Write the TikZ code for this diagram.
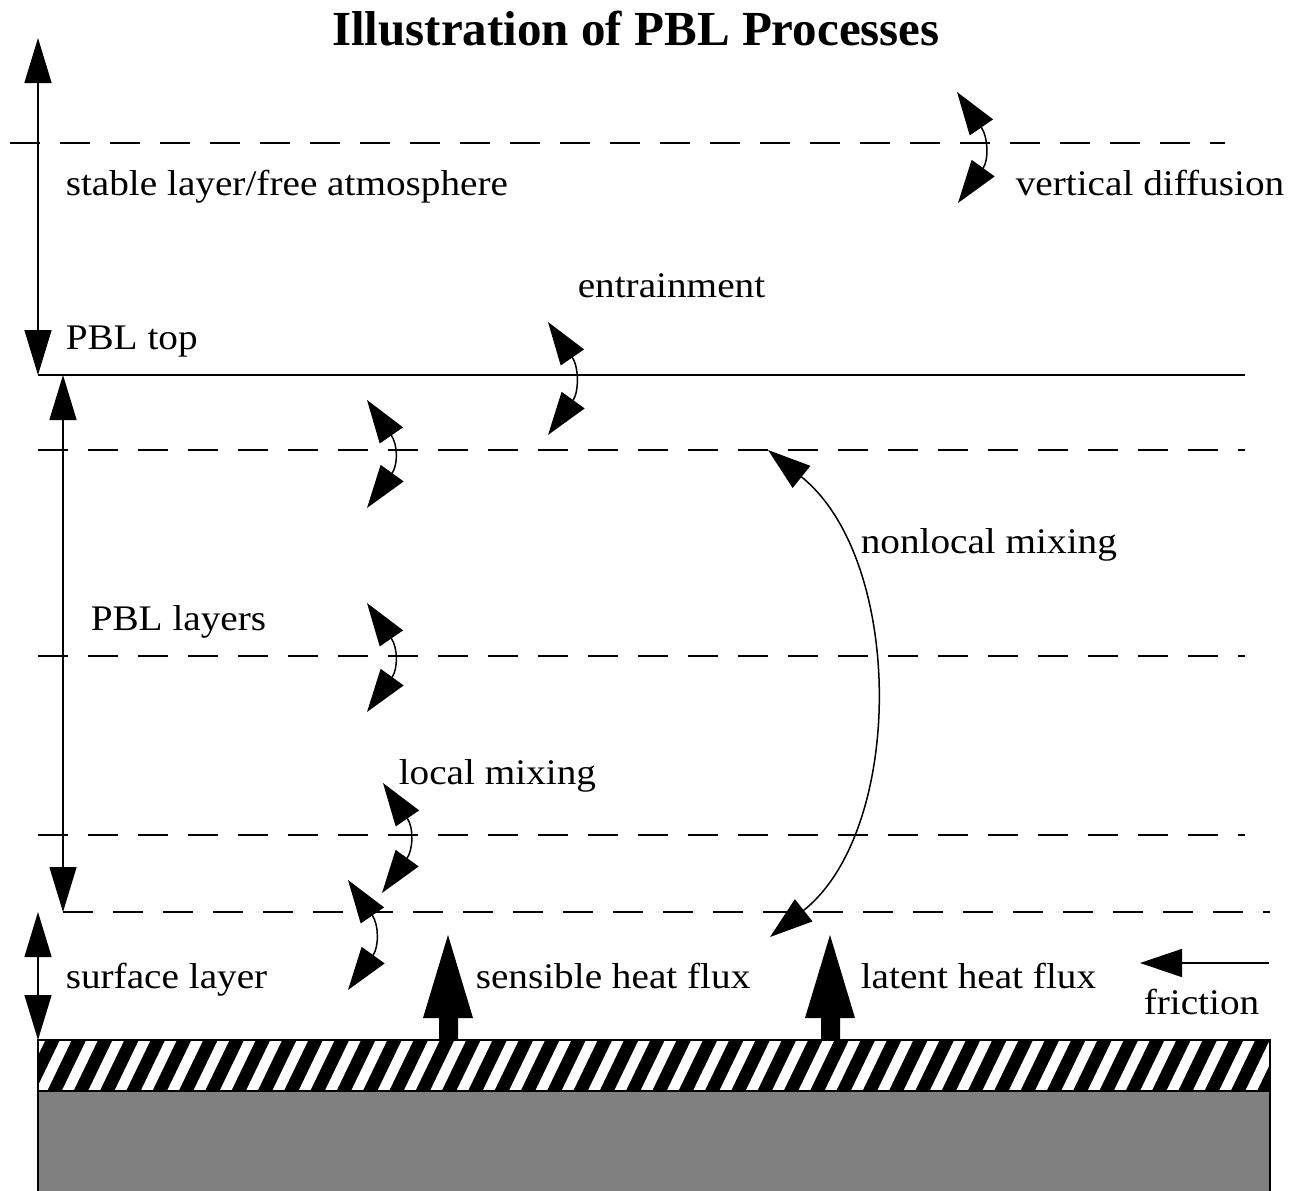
\documentclass[tikz,border=0pt]{standalone}
\usepackage{fontspec}
\setmainfont{Liberation Serif}[FakeStretch=1.09]
\newfontfamily\titlefont{Liberation Serif}
\usetikzlibrary{arrows.meta}
\begin{document}
\begin{tikzpicture}[x=1pt, y=-1pt, line width=1.5pt,
  lbl/.style={anchor=base west, inner sep=0pt, font=\fontsize{36}{40}\selectfont},
  dashline/.style={dash pattern=on 30pt off 20pt},
  mix/.style={{Triangle[length=43pt,width=28pt]}-{Triangle[length=43pt,width=28pt]}},
  spanarrow/.style={{Triangle[length=45pt,width=27pt]}-{Triangle[length=45pt,width=27pt]}},
  fluxarrow/.style={fill=black}]
\useasboundingbox (0,0) rectangle (1301,1191);

% title
\node[anchor=base, inner sep=0pt, font=\titlefont\bfseries\fontsize{49}{54}\selectfont] (title) at (636,45) {Illustration of PBL Processes};

% horizontal lines
\draw[dashline] (10,143) -- (1225,143);
\draw (38,375) -- (1245,375);
\draw[dashline] (38,450) -- (1245,450);
\draw[dashline] (38,656) -- (1245,656);
\draw[dashline] (38,835) -- (1245,835);
\draw[dashline] (63,912) -- (1270,912);

% vertical span arrows
\coordinate (a1t) at (38,38);  \coordinate (a1b) at (38,375);
\coordinate (a2t) at (63,375); \coordinate (a2b) at (63,912);
\coordinate (a3t) at (38,912); \coordinate (a3b) at (38,1040);
\draw[spanarrow] (a1t) -- (a1b);
\draw[spanarrow] (a2t) -- (a2b);
\draw[spanarrow] (a3t) -- (a3b);

% labels
\node[lbl] (stable) at (65,195) {stable layer/free atmosphere};
\node[lbl] (vdiff) at (1015,195) {vertical diffusion};
\node[lbl] (entr) at (577,297) {entrainment};
\node[lbl] (pbltop) at (65,349) {PBL top};
\node[lbl] (nonlocal) at (860,553) {nonlocal mixing};
\node[lbl] (pbllayers) at (90,630) {PBL layers};
\node[lbl] (local) at (398,784) {local mixing};
\node[lbl] (surface) at (65,988) {surface layer};
\node[lbl] (sensible) at (475,988) {sensible heat flux};
\node[lbl] (latent) at (860,988) {latent heat flux};
\node[lbl] (friction) at (1143,1014) {friction};

% small mixing arrows
\coordinate (m1t) at (957,92);  \coordinate (m1b) at (958,203);
\coordinate (m2t) at (548,322); \coordinate (m2b) at (548,435);
\coordinate (m3t) at (367,400); \coordinate (m3b) at (367,508);
\coordinate (m4t) at (367,603); \coordinate (m4b) at (367,712);
\coordinate (m5t) at (383,783); \coordinate (m5b) at (382,893);
\coordinate (m6t) at (348,880); \coordinate (m6b) at (348,990);
\draw[mix] (m1t) .. controls ++(31,45) and ++(31,-43) .. (m1b);
\draw[mix] (m2t) .. controls ++(31,45) and ++(31,-43) .. (m2b);
\draw[mix] (m3t) .. controls ++(31,45) and ++(31,-43) .. (m3b);
\draw[mix] (m4t) .. controls ++(31,45) and ++(31,-43) .. (m4b);
\draw[mix] (m5t) .. controls ++(31,45) and ++(31,-43) .. (m5b);
\draw[mix] (m6t) .. controls ++(31,45) and ++(31,-43) .. (m6b);

% nonlocal mixing arc
\coordinate (nlt) at (768,450); \coordinate (nlb) at (770,937);
\draw[mix] (nlt) .. controls (905,560) and (905,830) .. (nlb);

% heat flux arrows
\fill[fluxarrow] (439,1040) -- (439,1018) -- (423,1018) -- (448,935) -- (473,1018) -- (458,1018) -- (458,1040) -- cycle;
\fill[fluxarrow] (821,1040) -- (821,1018) -- (805,1018) -- (830,935) -- (855,1018) -- (840,1018) -- (840,1040) -- cycle;

% friction arrow
\coordinate (fr1) at (1269,963); \coordinate (fr2) at (1140,963);
\draw[-{Triangle[length=42pt,width=28pt]}] (fr1) -- (fr2);

% ground
\fill[black!50] (38,1091) rectangle (1270,1191);
\begin{scope}
  \clip (38,1040) rectangle (1270,1091);
  \fill[black] (38,1040) rectangle (1270,1091);
  \foreach \i in {-2,...,48} {
    \pgfmathsetmacro\xa{43+26.3*\i}
    \draw[white, line width=10.5pt] ({\xa-10},1108.2) -- ({\xa+39},1006.5);
  }
\end{scope}
\draw (38,1040) rectangle (1270,1091);
\draw (38,1091) -- (38,1191);
\draw (1270,1091) -- (1270,1191);
\end{tikzpicture}
\end{document}
